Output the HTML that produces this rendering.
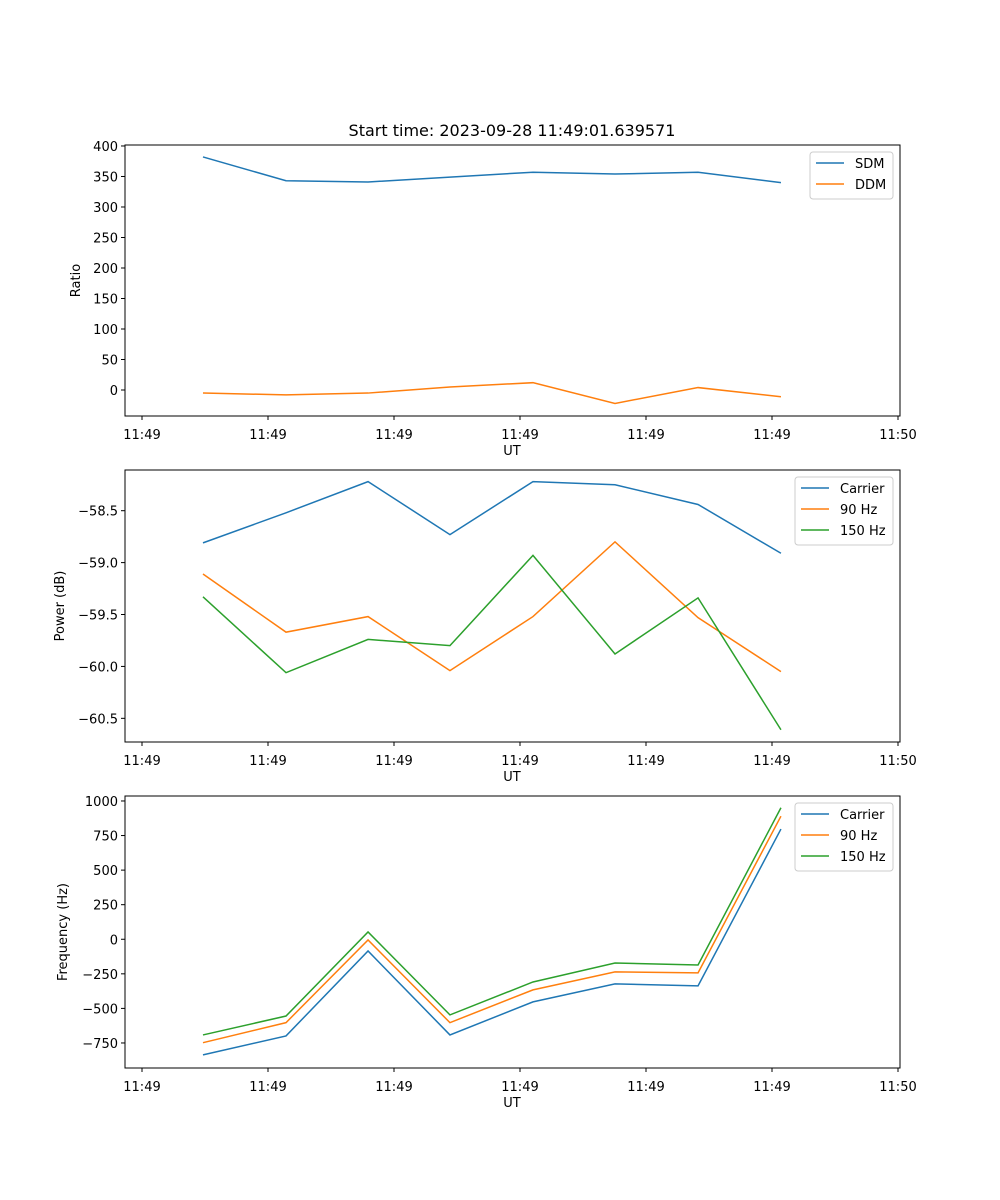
<!DOCTYPE html>
<html><head><meta charset="utf-8"><style>
body{margin:0;background:#fff;}
svg{display:block;font-family:"DejaVu Sans","Liberation Sans",sans-serif;}
</style></head><body>
<svg id="fig" width="1000" height="1200" xmlns="http://www.w3.org/2000/svg">
<rect width="1000" height="1200" fill="#fff"/>
<text x="512" y="136" text-anchor="middle" font-size="16">Start time: 2023-09-28 11:49:01.639571</text>
</svg>
<script>
const times = [4.84, 11.43, 17.94, 24.44, 31.03, 37.54, 44.13, 50.71];
const xTickVals = [0, 10, 20, 30, 40, 50, 60];
const xTickLabels = ["11:49","11:49","11:49","11:49","11:49","11:49","11:50"];
const sdm = [382, 343, 341, 349, 357, 354, 357, 340];
const ddm = [-5, -8, -5, 5, 12, -22, 4, -11];
const ratioTicks = [0, 50, 100, 150, 200, 250, 300, 350, 400];
const powCarrier = [-58.81, -58.52, -58.22, -58.73, -58.22, -58.25, -58.44, -58.91];
const pow90 = [-59.11, -59.67, -59.52, -60.04, -59.52, -58.80, -59.53, -60.05];
const pow150 = [-59.33, -60.06, -59.74, -59.80, -58.93, -59.88, -59.34, -60.61];
const powTicks = [-58.5, -59.0, -59.5, -60.0, -60.5];
const freqCarrier = [-836, -699, -85, -692, -453, -323, -337, 797];
const freq90 = [-748, -603, -5, -603, -366, -236, -243, 890];
const freq150 = [-692, -555, 53, -547, -309, -172, -186, 951];
const freqTicks = [-750, -500, -250, 0, 250, 500, 750, 1000];

const NS = "http://www.w3.org/2000/svg";
const svg = document.getElementById('fig');
const C = {blue:'#1f77b4', orange:'#ff7f0e', green:'#2ca02c'};
function mk(tag, attrs, parent){const e=document.createElementNS(NS,tag);for(const k in attrs)e.setAttribute(k,attrs[k]);(parent||svg).appendChild(e);return e;}
const L=125,R=900;
function xs(t){return 142 + t*12.6;}

function panel(name, top, bottom, ymin, ymax, ticks, fmt, ylabel, series, legend){
  const g=mk('g',{});
  
  
  const ys=v=>bottom-(v-ymin)/(ymax-ymin)*(bottom-top);
  ticks.forEach(v=>{
    const y=ys(v);
    mk('line',{x1:L-4,x2:L,y1:y,y2:y,stroke:'#000','stroke-width':1},g);
    const t=mk('text',{x:L-7,y:y+5,'text-anchor':'end','font-size':13},g);
    t.textContent=fmt(v);
    
    
  });
  xTickVals.forEach((v,i)=>{
    const x=xs(v);
    mk('line',{x1:x,x2:x,y1:bottom,y2:bottom+4,stroke:'#000','stroke-width':1},g);
    const t=mk('text',{x:x,y:bottom+23,'text-anchor':'middle','font-size':13},g);
    t.textContent=xTickLabels[i];
    
    
  });
  const xl=mk('text',{x:512,y:bottom+39,'text-anchor':'middle','font-size':13},g);
  xl.textContent='UT';
  
  
  const yx = ylabel.x, yc=(top+bottom)/2;
  const yl=mk('text',{x:yx,y:yc,'text-anchor':'middle','font-size':13,transform:`rotate(-90 ${yx} ${yc})`},g);
  yl.textContent=ylabel.text;
  
  
  series.forEach(s=>{
    const p=mk('polyline',{points:s.v.map((v,i)=>xs(times[i])+','+ys(v)).join(' '),fill:'none',stroke:s.c,'stroke-width':1.5},g);
    
    
  });
  mk('rect',{x:L,y:top,width:R-L,height:bottom-top,fill:'none',stroke:'#000','stroke-width':1},g);
  const lg=mk('g',{},g);
  
  
  mk('rect',{x:legend.x,y:top+7,width:R-7-legend.x,height:series.length*21+5,rx:3,fill:'#fff','fill-opacity':0.8,stroke:'#ccc'},lg);
  series.forEach((s,i)=>{
    const y=top+18+i*21;
    mk('line',{x1:legend.x+6,x2:legend.x+34,y1:y,y2:y,stroke:s.c,'stroke-width':1.5},lg);
    const t=mk('text',{x:legend.x+45,y:y+5,'font-size':13},lg);
    t.textContent=s.label;
    
    
  });
}
const m=v=>String(v).replace('-','\u2212');
panel('ratio-panel',145,416,-42.6,401.6,ratioTicks,v=>m(v),{x:80,text:'Ratio'},
  [{v:sdm,c:C.blue,n:'sdm',label:'SDM'},{v:ddm,c:C.orange,n:'ddm',label:'DDM'}],{x:810});
panel('power-panel',470,742,-60.728,-58.108,powTicks,v=>m(v.toFixed(1)),{x:64,text:'Power (dB)'},
  [{v:powCarrier,c:C.blue,n:'carrier',label:'Carrier'},{v:pow90,c:C.orange,n:'hz90',label:'90 Hz'},{v:pow150,c:C.green,n:'hz150',label:'150 Hz'}],{x:795});
panel('frequency-panel',796,1068,-931,1036,freqTicks,v=>m(v),{x:67,text:'Frequency (Hz)'},
  [{v:freqCarrier,c:C.blue,n:'carrier',label:'Carrier'},{v:freq90,c:C.orange,n:'hz90',label:'90 Hz'},{v:freq150,c:C.green,n:'hz150',label:'150 Hz'}],{x:795});
</script>
</body></html>
